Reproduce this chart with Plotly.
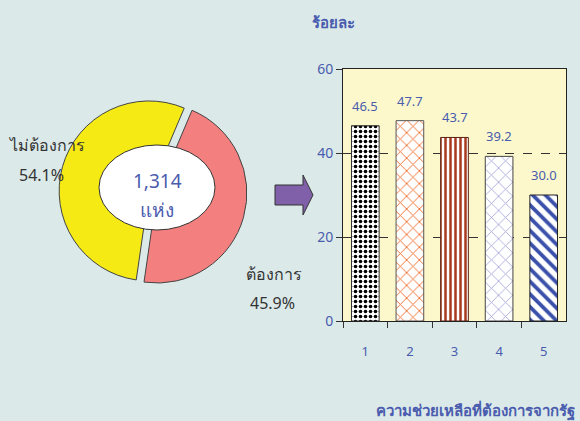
import plotly.graph_objects as go

W, H = 580, 421

# ---- data ----
pie_labels = ["ต้องการ", "ไม่ต้องการ"]
pie_values = [45.9, 54.1]
pie_pct_text = ["45.9%", "54.1%"]
center_text = ["1,314", "แห่ง"]

categories = ["1", "2", "3", "4", "5"]
values = [46.5, 47.7, 43.7, 39.2, 30.0]
y_tick_vals = [0, 20, 40, 60]

y_title = "ร้อยละ"
x_title = "ความช่วยเหลือที่ต้องการจากรัฐ"

# ---- styles ----
BG = "#dbe9e9"
BLUE = "#4a5cae"
DARK = "#333333"
FONT = "Noto Sans, Tahoma, sans-serif"


def px(x):
    return x / W


def py(y):
    return (H - y) / H


fig = go.Figure()

# exploded pie (center covered by an ellipse)
cx, cy, rr = 153, 192, 94
fig.add_trace(go.Pie(
    labels=pie_labels, values=pie_values, sort=False, direction="clockwise",
    rotation=23, pull=[0.045, 0.045], textinfo="none", hoverinfo="skip",
    marker=dict(colors=["#f47f7f", "#f5ea14"], line=dict(color="#444444", width=1)),
    domain=dict(x=[px(cx - rr), px(cx + rr)], y=[py(cy + rr), py(cy - rr)]),
    showlegend=False, automargin=False,
))

# bars
fig.add_trace(go.Bar(
    x=categories, y=values, width=0.62, showlegend=False, hoverinfo="skip",
    marker=dict(
        color="white",
        line=dict(color=["#333333", "#555555", "#5a2010", "#444444", "#222222"], width=1),
        pattern=dict(
            shape=[".", "x", "|", "x", "\\"],
            fgcolor=["#000000", "#f07030", "#a83a20", "#a8a8da", "#3a50aa"],
            bgcolor="white",
            size=[5, 9, 5, 10, 9],
            solidity=[0.42, 0.2, 0.5, 0.17, 0.42],
            fillmode="replace", fgopacity=1,
        ),
    ),
))

annotations = []
for i, v in enumerate(values):
    annotations.append(dict(x=i, y=v, xref="x", yref="y", text=f"{v:.1f}", showarrow=False,
                            xanchor="center", yanchor="middle", yshift=20,
                            font=dict(size=13, color=BLUE, family=FONT)))


def note(x, y, text, size, color, xanchor="center"):
    return dict(x=px(x), y=py(y), xref="paper", yref="paper", text=text, showarrow=False,
                xanchor=xanchor, yanchor="middle", font=dict(size=size, color=color, family=FONT))


annotations += [
    note(157, 181, center_text[0], 19, BLUE),
    note(157, 210, center_text[1], 19, BLUE),
    note(6, 145, pie_labels[1], 16, DARK, "left"),
    note(17, 175, pie_pct_text[1], 16, DARK, "left"),
    note(244, 274, pie_labels[0], 16, DARK, "left"),
    note(248, 303, pie_pct_text[0], 16, DARK, "left"),
    note(310, 22, f"<b>{y_title}</b>", 15, BLUE, "left"),
    note(374, 410, f"<b>{x_title}</b>", 15, BLUE, "left"),
]

# arrow path (paper coords)
pts = [(275, 185), (303, 185), (303, 175), (313, 195), (303, 215), (303, 205), (275, 205)]
path = "M " + " L ".join(f"{px(x):.5f},{py(y):.5f}" for x, y in pts) + " Z"

shapes = [
    dict(type="circle", xref="paper", yref="paper", x0=px(99), x1=px(215), y0=py(230), y1=py(145),
         fillcolor="white", line=dict(color="#333333", width=1), layer="above"),
    dict(type="path", xref="paper", yref="paper", path=path, fillcolor="#8060a8",
         line=dict(color="#333333", width=1), layer="above"),
]

fig.update_layout(
    width=W, height=H, autosize=False, margin=dict(l=0, r=0, t=0, b=0, pad=0, autoexpand=False),
    paper_bgcolor=BG, plot_bgcolor="#fcf8cc",
    font=dict(family=FONT, color=BLUE),
    annotations=annotations, shapes=shapes,
    xaxis=dict(domain=[px(343), px(566)], type="category", tickson="boundaries",
               range=[-0.5, 4.5], automargin=False,
               ticks="outside", ticklen=6, tickcolor=DARK, showline=True, linecolor="#222222",
               mirror=True, showgrid=False, ticklabelstandoff=18,
               tickfont=dict(size=13, color=BLUE)),
    yaxis=dict(domain=[py(321), py(69)], range=[0, 60], tickvals=y_tick_vals, automargin=False,
               ticks="outside", ticklen=6, tickcolor=DARK, showline=True, linecolor="#222222",
               mirror=True, showgrid=True, gridcolor="#333333", griddash="dash", gridwidth=1,
               zeroline=False, tickfont=dict(size=14, color=BLUE)),
)

fig.write_html("out.html", config={"displayModeBar": False},
               post_script="document.body.style.margin='0';document.body.style.overflow='hidden';")
